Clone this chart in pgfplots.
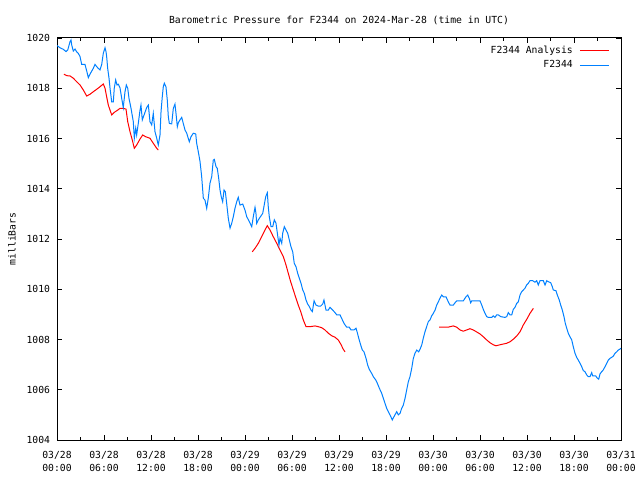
\documentclass[border=0pt]{standalone}
\usepackage{pgfplots}
\pgfplotsset{compat=1.18}
\usepackage{fontspec}
\setmainfont{DejaVu Sans Mono}
\definecolor{anared}{RGB}{255,0,0}
\definecolor{obsblue}{RGB}{0,128,255}
\newcommand{\gfont}{\fontsize{7.3}{9.75}\selectfont}
\begin{document}
\begin{tikzpicture}
\begin{axis}[
  scale only axis, width=423pt, height=301.5pt,
  xmin=0, xmax=72, ymin=1004, ymax=1020,
  axis line style={black, line width=0.75pt},
  tick align=inside,
  major tick length=3.5pt, minor tick length=2pt,
  tick style={black, line width=0.6pt},
  xtick={0,6,...,72}, minor xtick={3,9,...,69},
  xticklabels={{03/28\\00:00},{03/28\\06:00},{03/28\\12:00},{03/28\\18:00},{03/29\\00:00},{03/29\\06:00},{03/29\\12:00},{03/29\\18:00},{03/30\\00:00},{03/30\\06:00},{03/30\\12:00},{03/30\\18:00},{03/31\\00:00}},
  xticklabel style={align=center, font=\gfont, inner sep=0pt, yshift=-8pt},
  ytick={1004,1006,...,1020},
  yticklabel style={font=\gfont, inner sep=0pt, xshift=-5pt},
  /pgf/number format/assume math mode=true,
  /pgf/number format/1000 sep={},
  title={Barometric Pressure for F2344 on 2024-Mar-28 (time in UTC)},
  every axis title/.style={at={(rel axis cs:0.5,1.0448)}, anchor=center, font=\gfont},
  ylabel={milliBars},
  every axis y label/.style={at={(rel axis cs:-0.0798,0.5)}, rotate=90, anchor=center, font=\gfont},
  unbounded coords=jump,
  legend plot pos=right,
  legend cell align=right,
  legend image code/.code={\path (0pt,0pt); \draw[#1] (4pt,0pt) -- (26pt,0pt);},
  legend style={at={(rel axis cs:0.9805,0.985)}, anchor=north east, draw=none, fill=none, font=\gfont, inner sep=0pt, row sep=2pt, nodes={inner sep=1pt}},
]
\coordinate (ll) at (rel axis cs:0,0);
\coordinate (ur) at (rel axis cs:1,1);
\addplot[anared, line width=0.75pt] table[x=h, y=p] {
h p
0.89 1018.56
1.24 1018.50
1.66 1018.49
2.08 1018.40
2.51 1018.26
2.94 1018.13
3.36 1017.93
3.79 1017.69
4.21 1017.76
4.63 1017.86
5.07 1017.96
5.49 1018.06
5.91 1018.17
6.13 1018.00
6.34 1017.66
6.55 1017.33
6.77 1017.13
6.98 1016.94
7.31 1017.04
7.75 1017.13
8.04 1017.20
8.46 1017.20
8.81 1017.17
9.03 1016.67
9.32 1016.27
9.61 1015.94
9.87 1015.61
10.17 1015.74
10.60 1015.98
10.94 1016.14
11.32 1016.07
11.87 1016.01
12.29 1015.81
12.73 1015.61
12.93 1015.54
nan nan
24.93 1011.49
25.28 1011.63
25.70 1011.83
26.13 1012.09
26.55 1012.36
26.85 1012.53
27.19 1012.36
27.61 1012.09
28.05 1011.83
28.47 1011.56
28.89 1011.30
29.23 1010.97
29.53 1010.63
29.83 1010.30
30.17 1009.97
30.51 1009.64
30.80 1009.37
31.11 1009.11
31.44 1008.78
31.79 1008.51
32.30 1008.51
32.94 1008.54
33.36 1008.51
33.79 1008.47
34.21 1008.38
34.63 1008.25
35.07 1008.15
35.49 1008.09
35.91 1007.98
36.22 1007.82
36.55 1007.61
36.77 1007.51
nan nan
48.77 1008.49
49.32 1008.49
49.95 1008.49
50.17 1008.51
50.59 1008.54
51.03 1008.49
51.45 1008.38
51.87 1008.33
52.30 1008.38
52.72 1008.43
53.14 1008.38
53.58 1008.30
54.00 1008.22
54.42 1008.11
54.86 1007.98
55.28 1007.87
55.70 1007.79
56.04 1007.75
56.55 1007.79
56.98 1007.82
57.41 1007.85
57.83 1007.91
58.25 1008.01
58.69 1008.14
59.11 1008.31
59.53 1008.58
59.96 1008.80
60.38 1009.04
60.81 1009.24
};
\addlegendentry{F2344 Analysis}
\addplot[obsblue, line width=0.75pt] table[x=h, y=p] {
h p
0.00 1019.70
0.38 1019.61
0.80 1019.55
1.15 1019.46
1.37 1019.52
1.66 1019.85
1.79 1019.92
1.88 1019.72
2.08 1019.48
2.30 1019.56
2.51 1019.45
2.72 1019.39
2.94 1019.26
3.15 1018.95
3.57 1018.95
3.79 1018.69
4.00 1018.42
4.21 1018.56
4.63 1018.79
4.85 1018.95
5.07 1018.86
5.27 1018.79
5.49 1018.73
5.71 1018.95
5.91 1019.39
6.13 1019.61
6.26 1019.45
6.34 1019.26
6.47 1018.79
6.64 1018.40
6.77 1018.00
6.98 1017.46
7.19 1017.46
7.31 1018.00
7.49 1018.33
7.66 1018.13
7.83 1018.16
8.04 1018.02
8.26 1017.60
8.46 1017.23
8.68 1017.86
8.85 1018.13
9.03 1018.00
9.19 1017.60
9.45 1017.20
9.74 1016.67
9.87 1016.01
10.05 1016.41
10.17 1016.14
10.38 1016.61
10.60 1017.13
10.72 1017.33
10.89 1016.74
11.14 1016.96
11.45 1017.23
11.66 1017.33
11.87 1016.67
12.09 1016.54
12.29 1017.00
12.51 1016.27
12.73 1016.01
12.93 1015.74
13.15 1016.14
13.28 1017.07
13.44 1017.66
13.57 1018.06
13.70 1018.20
13.91 1018.06
14.08 1017.53
14.21 1016.87
14.34 1016.60
14.64 1016.58
14.85 1017.20
15.06 1017.37
15.19 1017.00
15.36 1016.47
15.49 1016.63
15.70 1016.74
15.92 1016.84
16.12 1016.60
16.34 1016.34
16.56 1016.21
16.89 1015.87
17.11 1016.07
17.40 1016.21
17.71 1016.18
17.83 1015.81
18.04 1015.47
18.26 1015.08
18.47 1014.48
18.68 1013.62
18.89 1013.55
19.11 1013.22
19.31 1013.62
19.53 1014.22
19.75 1014.48
19.95 1015.14
20.08 1015.17
20.30 1014.88
20.46 1014.81
20.64 1014.42
20.81 1013.95
20.97 1013.68
21.15 1013.48
21.32 1013.95
21.49 1013.88
21.66 1013.42
21.87 1012.82
22.09 1012.43
22.30 1012.62
22.51 1012.89
22.72 1013.22
22.94 1013.48
23.14 1013.66
23.36 1013.35
23.71 1013.39
24.00 1013.15
24.22 1012.89
24.55 1012.69
24.86 1012.49
25.06 1012.89
25.28 1013.26
25.40 1013.02
25.49 1012.62
25.70 1012.76
25.91 1012.86
26.26 1013.02
26.43 1013.31
26.64 1013.68
26.85 1013.84
26.97 1013.29
27.10 1012.89
27.32 1012.49
27.54 1012.49
27.74 1012.76
27.96 1012.62
28.13 1012.23
28.34 1011.76
28.47 1012.03
28.69 1011.83
28.81 1012.23
29.02 1012.49
29.23 1012.36
29.45 1012.23
29.66 1011.96
29.87 1011.69
30.09 1011.49
30.29 1011.03
30.51 1010.90
30.73 1010.63
30.93 1010.44
31.15 1010.24
31.37 1009.97
31.57 1009.84
31.79 1009.57
32.00 1009.41
32.21 1009.31
32.43 1009.17
32.60 1009.11
32.73 1009.37
32.82 1009.54
33.06 1009.37
33.36 1009.33
33.66 1009.33
33.92 1009.41
34.08 1009.57
34.21 1009.37
34.34 1009.17
34.63 1009.17
34.85 1009.28
35.20 1009.17
35.49 1009.07
35.71 1008.98
36.13 1008.98
36.34 1008.84
36.64 1008.64
36.98 1008.49
37.31 1008.49
37.53 1008.38
37.91 1008.38
38.17 1008.45
38.34 1008.27
38.52 1008.05
38.77 1007.78
38.98 1007.58
39.19 1007.51
39.45 1007.25
39.66 1006.98
39.87 1006.81
40.17 1006.65
40.38 1006.52
40.69 1006.39
40.89 1006.26
41.15 1006.06
41.45 1005.86
41.66 1005.66
41.87 1005.46
42.09 1005.26
42.29 1005.13
42.51 1005.00
42.80 1004.80
43.02 1004.93
43.37 1005.13
43.57 1005.00
43.79 1005.06
44.00 1005.26
44.21 1005.39
44.43 1005.66
44.64 1005.99
44.85 1006.32
45.06 1006.52
45.28 1006.85
45.49 1007.25
45.70 1007.45
45.92 1007.58
46.17 1007.51
46.34 1007.61
46.56 1007.78
46.76 1008.05
46.98 1008.31
47.19 1008.51
47.40 1008.71
47.62 1008.78
47.83 1008.94
48.04 1009.04
48.26 1009.17
48.47 1009.37
48.68 1009.50
48.89 1009.64
49.11 1009.77
49.32 1009.70
49.66 1009.70
49.95 1009.50
50.17 1009.37
50.59 1009.37
50.81 1009.46
51.03 1009.54
51.66 1009.54
51.87 1009.54
52.21 1009.70
52.43 1009.77
52.63 1009.64
52.81 1009.46
52.94 1009.54
54.00 1009.54
54.22 1009.37
54.42 1009.20
54.64 1009.04
54.86 1008.91
55.06 1008.88
55.49 1008.88
55.70 1008.94
55.91 1008.88
56.13 1008.98
56.34 1008.98
56.64 1008.91
57.19 1008.88
57.41 1008.91
57.61 1009.07
57.83 1008.98
58.05 1008.98
58.25 1009.20
58.47 1009.28
58.69 1009.44
58.89 1009.50
59.11 1009.77
59.32 1009.90
59.53 1009.97
59.74 1010.04
59.96 1010.17
60.17 1010.24
60.38 1010.34
60.73 1010.34
61.02 1010.28
61.24 1010.34
61.44 1010.17
61.66 1010.34
62.08 1010.34
62.30 1010.17
62.52 1010.34
62.72 1010.30
63.03 1010.26
63.23 1010.10
63.36 1009.97
63.70 1009.94
63.87 1009.77
64.12 1009.57
64.30 1009.37
64.51 1009.17
64.72 1008.91
64.89 1008.64
65.07 1008.45
65.27 1008.25
65.49 1008.11
65.71 1007.98
65.91 1007.71
66.13 1007.45
66.34 1007.29
66.55 1007.18
66.77 1007.05
66.98 1006.92
67.19 1006.76
67.40 1006.72
67.62 1006.59
67.83 1006.52
68.04 1006.52
68.26 1006.68
68.39 1006.55
68.77 1006.55
68.98 1006.46
69.15 1006.42
69.32 1006.63
69.54 1006.72
69.74 1006.79
69.96 1006.92
70.17 1007.05
70.38 1007.18
70.60 1007.25
70.81 1007.29
71.02 1007.34
71.23 1007.45
71.45 1007.51
71.66 1007.58
71.87 1007.62
72.00 1007.65
};
\addlegendentry{F2344}
\end{axis}
\pgfresetboundingbox
\path ([shift={(-42.75pt,-30pt)}]ll) rectangle ([shift={(14.25pt,28.5pt)}]ur);
\end{tikzpicture}
\end{document}
